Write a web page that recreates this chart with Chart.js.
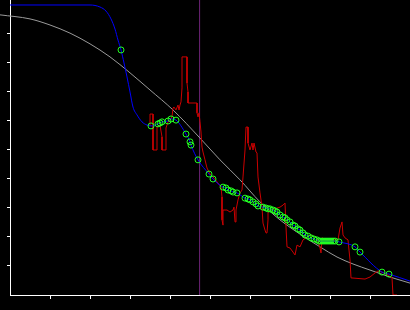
<!DOCTYPE html>
<html>
<head>
<meta charset="utf-8">
<script src="https://cdn.jsdelivr.net/npm/chart.js@4/dist/chart.umd.min.js"></script>
<style>
  html, body { margin: 0; padding: 0; background: #000; }
  canvas { display: block; background: #000; }
</style>
</head>
<body>
<canvas id="chart" width="410" height="310"></canvas>
<script>
// gray smooth curve
const curveX = [-2.5, 5, 10, 15, 20, 25, 30, 35, 40.75, 47.5, 52.5, 57.5, 62.5, 67.5, 72.5, 77.5, 81.75, 85.75, 90, 95, 100];
const curveY = [96.6, 95.2, 93.1, 90.3, 86.6, 82.1, 76.6, 70.7, 63.8, 54.1, 46.6, 39.7, 32.1, 25.9, 21.0, 16.6, 13.1, 10.7, 8.6, 6.2, 4.1];

// blue fit, the part that is not on the circles
const fitX = [0, 20, 22.5, 24, 25.25, 26.25, 27, 28.5, 29.25, 30, 30.75, 31.75, 33, 34.25, 100];
const fitY = [100, 100, 99.3, 97.9, 95.2, 91.7, 87.9, 80, 75.2, 70, 64.8, 62.1, 59.7, 58.6, 4.8];

// green circles (observations)
const obsX = [27.75, 35.25, 37, 37.5, 38, 39.5, 40.25, 41.5, 44, 45, 45.25, 47, 49.75, 50.75,
  53.25, 54, 54.5, 55.25, 55.75, 56.75, 58.75, 59.5, 60, 60.75, 61.5, 62, 63.25, 64, 64.5, 65,
  65.75, 66.25, 66.75, 67.5, 68.25, 68.75, 69.25, 70, 70.75, 71.25, 72, 72.5, 73.25, 73.75, 74.5,
  75.25, 76, 76.75, 77.25, 77.75, 78.25, 78.75, 79.25, 79.75, 80.25, 80.75, 81.25, 82.25, 86.25,
  87.5, 93, 94.75];
const obsY = [84.5, 58.3, 59.0, 59.3, 59.7, 60.0, 60.7, 60.3, 55.5, 52.8, 51.7, 46.6, 41.7, 40.0,
  37.2, 36.9, 36.2, 35.9, 35.5, 35.2, 33.4, 33.1, 32.8, 32.1, 31.4, 30.7, 30.3, 30.0, 29.7, 29.7,
  29.3, 29.0, 28.6, 27.6, 26.9, 26.6, 25.9, 25.2, 24.1, 23.8, 22.8, 22.4, 21.4, 20.7, 20.3,
  19.7, 19.3, 19.0, 18.6, 18.6, 18.6, 18.6, 18.6, 18.6, 18.6, 18.6, 18.6, 18.3, 16.6,
  14.8, 7.9, 7.2];

// red raw signal
const rawX = [35, 35, 35.75, 35.75, 36.75, 36.75, 37.5, 38, 38, 39, 39, 39.5, 40, 40.5, 40.75, 41,
  41.5, 42, 42.25, 42.5, 42.75, 43, 43, 44.25, 44.25, 44.5, 44.5, 46.75, 46.75, 47, 47.25, 47.5,
  47.75, 48, 48.25, 48.75, 49.25, 50, 50.75, 52, 52.75, 53, 53, 53.25, 53.25, 54.25, 55, 55.75,
  56, 56.25, 56.5, 57, 57.5, 58, 58.25, 58.75, 59, 59.5, 59.5, 60, 60.5, 60.75, 61, 61.5, 61.75,
  62, 62.5, 63, 63.25, 63.75, 64, 64.25, 64.5, 64.5, 65, 66.25, 67.5, 68.25, 68.75, 69, 69.25,
  70, 70.75, 71.25, 71.75, 72.5, 73.25, 74.25, 75, 76.75, 77.5, 77.75, 78, 79, 80, 82, 82.5, 83,
  83.25, 83.75, 84.5, 84.75, 85, 85.25, 88.75, 90, 91.25, 92, 93, 94.5, 95.5, 95.75, 96.75];
const rawY = [58.3, 62.4, 62.4, 50.0, 50.0, 57.9, 58.6, 54.5, 50.0, 50.0, 57.6, 59.7, 60.3, 61.4,
  64.5, 64.8, 63.8, 65.5, 63.8, 65.5, 66.6, 71.4, 82.1, 82.1, 73.1, 70.0, 66.2, 66.2, 62.8, 61.4,
  62.8, 59.7, 56.2, 51.0, 49.3, 46.6, 43.8, 41.7, 40.7, 38.6, 37.2, 33.8, 25.9, 24.1, 29.3, 29.3,
  28.6, 29.3, 30.3, 25.2, 29.3, 32.8, 35.2, 36.2, 40.7, 50.0, 57.9, 57.9, 52.4, 50.0, 52.4, 50.0,
  52.4, 49.3, 49.0, 40.7, 35.2, 30.3, 24.8, 22.4, 21.4, 21.4, 25.9, 28.3, 29.3, 29.7, 30.3, 31.0,
  31.7, 23.4, 16.6, 16.2, 14.8, 13.8, 17.2, 16.6, 19.0, 20.0, 20.7, 19.7, 16.2, 14.5, 19.7, 19.0,
  19.0, 19.0, 23.1, 25.2, 20.7, 19.7, 19.0, 15.5, 12.1, 5.9, 5.5, 6.2, 7.6, 8.3, 7.9, 6.9, 5.9,
  0, 0];

const markerX = 47.4;
const xTicks = [10, 20, 30, 40, 50, 60, 70, 80, 90, 100];
const yTicks = [10, 20, 30, 40, 50, 60, 70, 80, 90];
const yTop = 101.72;

const pts = (xs, ys) => xs.map((x, i) => ({x: x, y: ys[i]}));
const fitPts = pts(fitX, fitY).concat(pts(obsX, obsY)).sort((a, b) => a.x - b.x);

const ctx = document.getElementById('chart').getContext('2d');
new Chart(ctx, {
  type: 'scatter',
  data: {
    datasets: [
      {
        data: pts(obsX, obsY),
        showLine: false,
        pointRadius: 3,
        pointBorderWidth: 1,
        pointBorderColor: '#22ff22',
        pointBackgroundColor: 'rgba(0,0,0,0)'
      },
      {
        data: fitPts,
        showLine: true,
        borderColor: '#0000ff',
        borderWidth: 1,
        pointRadius: 0,
        cubicInterpolationMode: 'monotone'
      },
      {
        data: pts(rawX, rawY),
        showLine: true,
        borderColor: '#cc0000',
        borderWidth: 1,
        pointRadius: 0,
        tension: 0
      },
      {
        data: pts(curveX, curveY),
        showLine: true,
        borderColor: '#9a9a9a',
        borderWidth: 1,
        pointRadius: 0,
        cubicInterpolationMode: 'monotone',
        clip: false
      },
      {
        data: [{x: markerX, y: 0}, {x: markerX, y: yTop}],
        showLine: true,
        borderColor: '#6e2478',
        borderWidth: 1,
        pointRadius: 0
      }
    ]
  },
  options: {
    responsive: false,
    animation: false,
    events: [],
    layout: { autoPadding: false, padding: { left: 7, top: 0, right: 0, bottom: 11 } },
    plugins: { legend: { display: false }, tooltip: { enabled: false } },
    scales: {
      x: {
        type: 'linear',
        min: 0,
        max: 100,
        afterBuildTicks: (scale) => { scale.ticks = xTicks.map(v => ({value: v})); },
        ticks: { display: false },
        grid: { drawOnChartArea: false, color: '#ffffff', tickLength: 4 },
        border: { color: '#ffffff', width: 1 }
      },
      y: {
        type: 'linear',
        min: 0,
        max: yTop,
        afterBuildTicks: (scale) => { scale.ticks = yTicks.map(v => ({value: v})); },
        ticks: { display: false },
        grid: { drawOnChartArea: false, color: '#ffffff', tickLength: 3 },
        border: { color: '#ffffff', width: 1 }
      }
    }
  }
});
</script>
</body>
</html>
